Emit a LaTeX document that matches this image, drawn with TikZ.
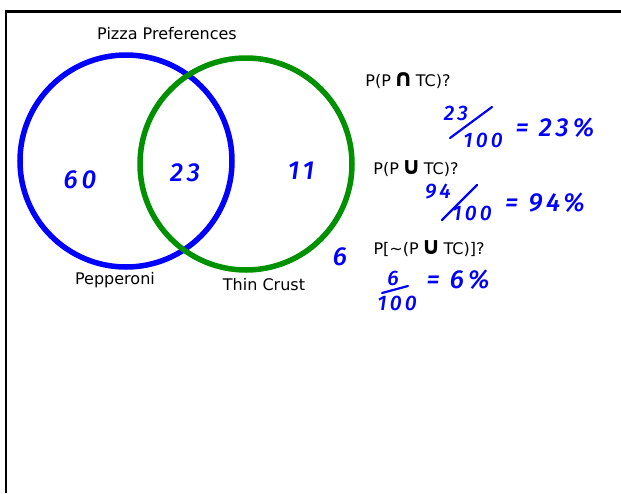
\documentclass[tikz,border=0pt]{standalone}
\usepackage{fontspec}
\setmainfont{DejaVu Sans}
\newfontfamily\handfont{Fira Sans Medium}[LetterSpace=15]
\usepackage{tikz}
\definecolor{tcgreen}{RGB}{0,145,0}
\newcommand{\bigsym}[1]{{\bfseries\fontsize{24}{24}\selectfont #1}}

\begin{document}
\begin{tikzpicture}[x=1pt,y=-1pt,
    set/.style={circle,line width=5.5pt,minimum size=212pt,inner sep=0},
    txt/.style={font=\fontsize{16}{18}\selectfont,inner sep=0},
    hand/.style={text=blue,font=\handfont\itshape\fontsize{26}{28}\selectfont,inner sep=0},
    small/.style={text=blue,font=\handfont\itshape\fontsize{21}{23}\selectfont,inner sep=0},
    bar/.style={draw=blue,line width=2.2pt,line cap=round}]
        \useasboundingbox (0,0) rectangle (621,493);
        \draw[line width=2.5pt] (6,493) -- (6,11.5) -- (621,11.5);
        % venn diagram
        \node[txt] (title) at (167,34) {Pizza Preferences};
        \node[set,draw=blue] (pep) at (126,161) {};
        \node[set,draw=tcgreen] (tc) at (246,164) {};
        \node[txt] (peplab) at (115,280) {Pepperoni};
        \node[txt] (tclab) at (264,285) {Thin Crust};
        \node[hand] (n60) at (80,180) {60};
        \node[hand] (n23) at (185,173) {23};
        \node[hand] (n11) at (301,171) {11};
        \node[hand] (n6) at (340,257) {6};
        % questions
        \node[txt] (q1) at (408,81) {P(P\,\bigsym{∩}\,TC)?};
        \node[small] (q1n) at (456,113) {23};
        \node[small] (q1d) at (483,140) {100};
        \coordinate (q1a) at (450,138);
        \coordinate (q1b) at (492,107);
        \draw[bar] (q1a) -- (q1b);
        \node[hand] (q1r) at (555,128) {= 23\%};
        \node[txt] (q2) at (416,169) {P(P\,\bigsym{∪}\,TC)?};
        \node[small] (q2n) at (438,192) {94};
        \node[small] (q2d) at (472,213) {100};
        \coordinate (q2a) at (442,220);
        \coordinate (q2b) at (477,185);
        \draw[bar] (q2a) -- (q2b);
        \node[hand] (q2r) at (545,203) {= 94\%};
        \node[txt] (q3) at (429,249) {P[\textasciitilde(P\,\bigsym{∪}\,TC)]?};
        \node[small] (q3n) at (393,278) {6};
        \node[small] (q3d) at (397,303) {100};
        \coordinate (q3a) at (382,293);
        \coordinate (q3b) at (408,286);
        \draw[bar] (q3a) -- (q3b);
        \node[hand] (q3r) at (458,280) {= 6\%};
      \end{tikzpicture}
\end{document}
